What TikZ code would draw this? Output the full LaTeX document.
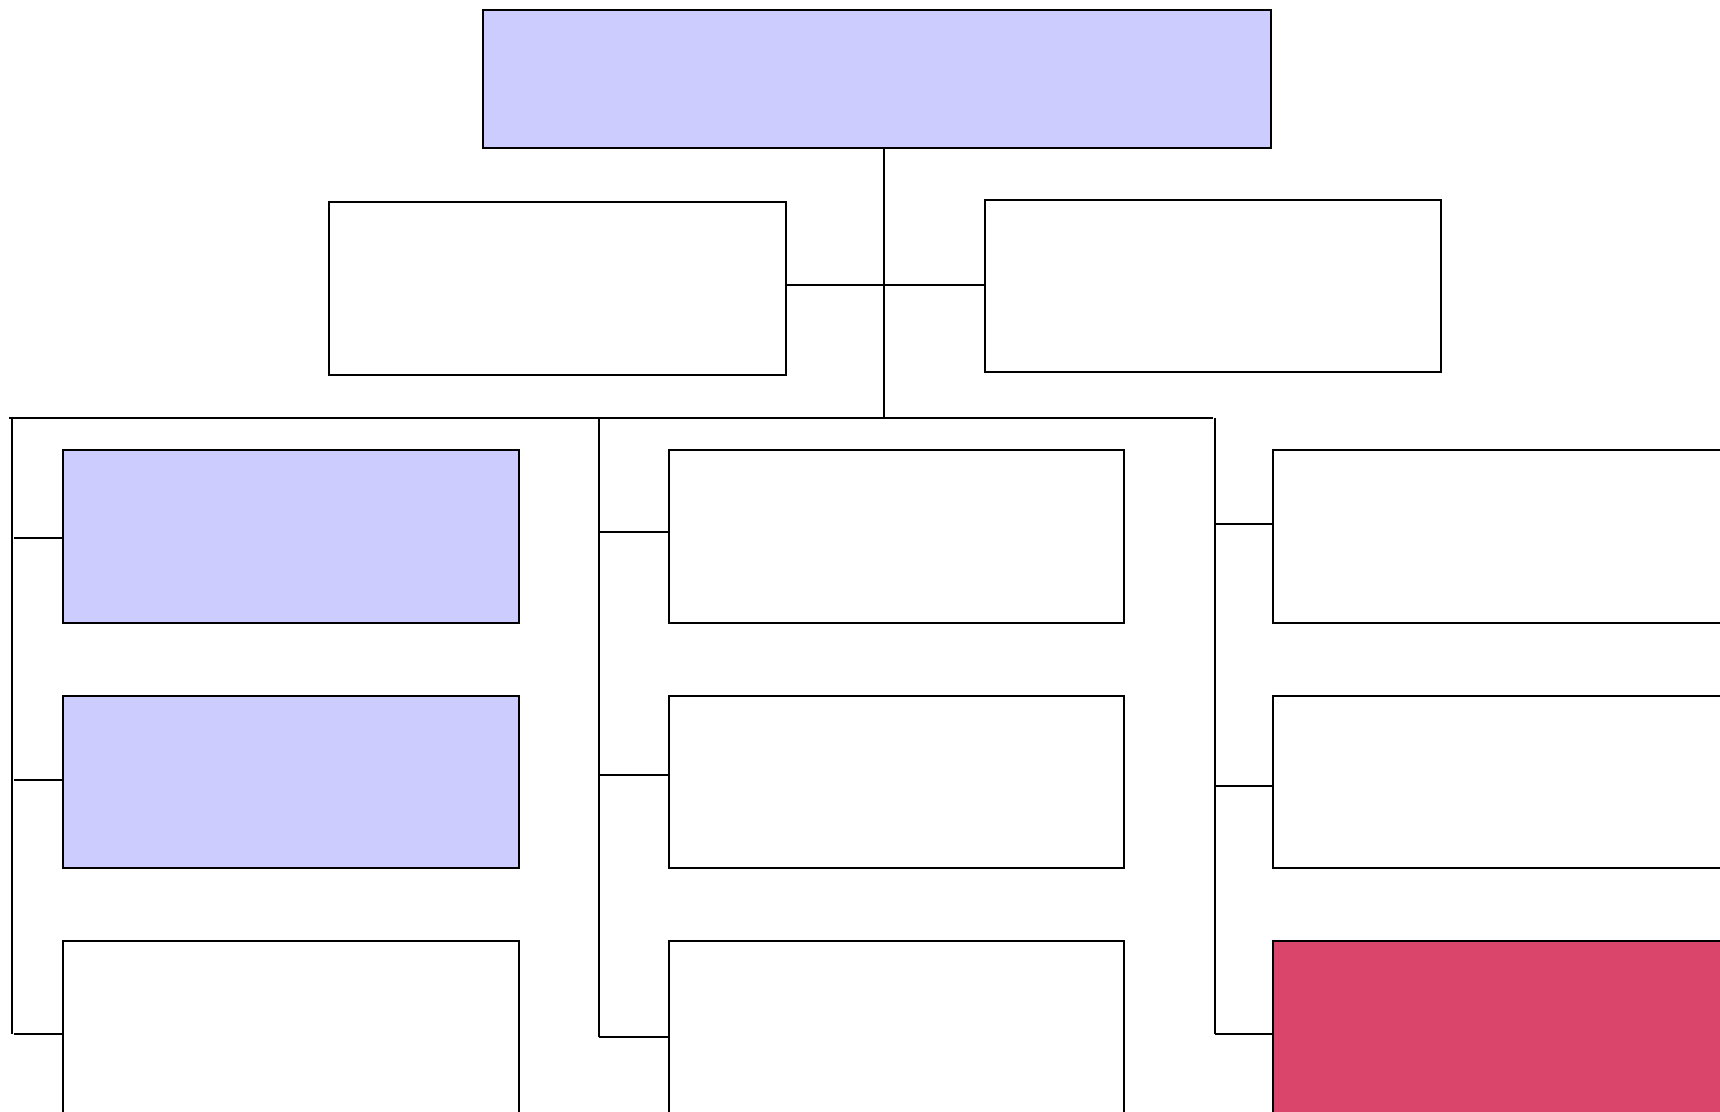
\documentclass[tikz,border=0pt]{standalone}
\usetikzlibrary{fit}
\definecolor{lav}{HTML}{CCCCFF}
\definecolor{rose}{HTML}{DA456C}
\begin{document}
\begin{tikzpicture}[x=0.5pt,y=-0.5pt,
  box/.style={draw=black,line width=0.8pt,inner sep=0pt,outer sep=0pt,rectangle},
  lavbox/.style={box,fill=lav},
  rosebox/.style={box,fill=rose},
  wire/.style={draw=black,line width=0.8pt}]
\clip (0,0) rectangle (1720,1112);
\fill[white] (0,0) rectangle (1720,1112);
% top level
\node[lavbox,fit={(483,10)(1271,148)}] (top) {};
\node[box,fit={(329,202)(786,375)}] (lm) {};
\node[box,fit={(985,200)(1441,372)}] (rm) {};
% column 1
\node[lavbox,fit={(63,450)(519,623)}] (a1) {};
\node[lavbox,fit={(63,696)(519,868)}] (a2) {};
\node[box,fit={(63,941)(519,1114)}] (a3) {};
% column 2
\node[box,fit={(669,450)(1124,623)}] (b1) {};
\node[box,fit={(669,696)(1124,868)}] (b2) {};
\node[box,fit={(669,941)(1124,1114)}] (b3) {};
% column 3
\node[box,fit={(1273,450)(1729,623)}] (c1) {};
\node[box,fit={(1273,696)(1729,868)}] (c2) {};
\node[rosebox,fit={(1273,941)(1729,1114)}] (c3) {};
% junction coordinates
\coordinate (j) at (884,418);
\coordinate (h) at (884,285);
\coordinate (busL) at (9,418);
\coordinate (busR) at (1213,418);
\coordinate (vA) at (12,418);
\coordinate (vAe) at (12,1034);
\coordinate (vB) at (599,418);
\coordinate (vBe) at (599,1037);
\coordinate (vC) at (1215,418);
\coordinate (vCe) at (1215,1034);
\coordinate (ta1) at (14,538);
\coordinate (ta2) at (14,780);
\coordinate (ta3) at (14,1034);
\coordinate (tb1) at (599,532);
\coordinate (tb2) at (599,775);
\coordinate (tb3) at (599,1037);
\coordinate (tc1) at (1215,524);
\coordinate (tc2) at (1215,786);
\coordinate (tc3) at (1215,1034);
% connectors
\draw[wire] (top.south -| j) -- (j);
\draw[wire] (lm.east |- h) -- (rm.west |- h);
\draw[wire] (busL) -- (busR);
\draw[wire] (vA) -- (vAe);
\draw[wire] (vB) -- (vBe);
\draw[wire] (vC) -- (vCe);
\draw[wire] (ta1) -- (a1.west |- ta1);
\draw[wire] (ta2) -- (a2.west |- ta2);
\draw[wire] (ta3) -- (a3.west |- ta3);
\draw[wire] (tb1) -- (b1.west |- tb1);
\draw[wire] (tb2) -- (b2.west |- tb2);
\draw[wire] (tb3) -- (b3.west |- tb3);
\draw[wire] (tc1) -- (c1.west |- tc1);
\draw[wire] (tc2) -- (c2.west |- tc2);
\draw[wire] (tc3) -- (c3.west |- tc3);
\end{tikzpicture}
\end{document}
